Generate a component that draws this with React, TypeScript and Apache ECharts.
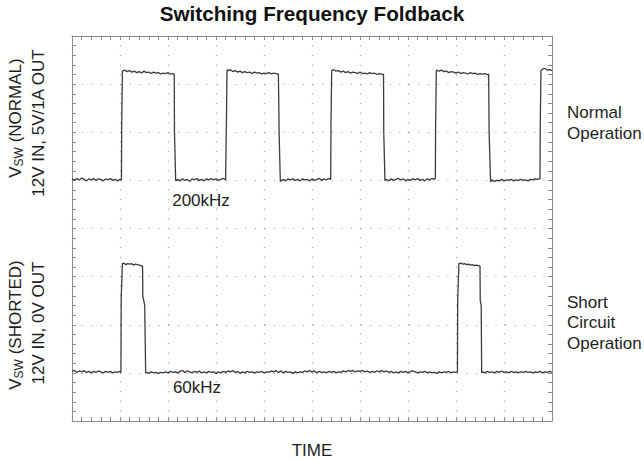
import { useEffect, useRef } from "react";
import * as echarts from "echarts";

// Chart texts
const titleText = "Switching Frequency Foldback";
const xAxisName = "TIME";
const normalFreqLabel = "200kHz";
const shortFreqLabel = "60kHz";
const normalSideLabel = "Normal\nOperation";
const shortSideLabel = "Short\nCircuit\nOperation";
const normalAxisLabel = ["V", "SW", " (NORMAL)", "12V IN, 5V/1A OUT"];
const shortAxisLabel = ["V", "SW", " (SHORTED)", "12V IN, 0V OUT"];

// Scope screen: 10 horizontal x 8 vertical divisions
const xDivisions = [0, 10];
const yDivisions = [0, 8];

// Top trace: VSW (normal) – [time div, vertical div]
const normalTrace: [number, number][] = [
  [0, 5.03], [0.05, 5.0], [0.1, 5.04], [0.15, 5.01], [0.2, 5.05], [0.25, 5.02], [0.3, 4.99], [0.35, 5.03], [0.4, 5.01], [0.45, 5.04],
  [0.5, 5.0], [0.55, 5.03], [0.6, 5.02], [0.65, 4.99], [0.7, 5.03], [0.75, 5.01], [0.8, 5.04], [0.85, 5.0], [0.9, 5.02], [0.95, 4.99],
  [1.0, 5.02], [1.03, 5.01], [1.035, 6.1], [1.05, 7.27],
  [1.1, 7.29], [1.15, 7.26], [1.2, 7.28], [1.25, 7.25], [1.3, 7.27], [1.35, 7.24], [1.4, 7.26], [1.45, 7.23], [1.5, 7.27], [1.55, 7.24],
  [1.6, 7.25], [1.65, 7.22], [1.7, 7.25], [1.75, 7.23], [1.8, 7.24], [1.85, 7.21], [1.9, 7.23], [1.95, 7.22], [2.0, 7.24], [2.05, 7.21],
  [2.1, 7.22], [2.13, 7.21], [2.135, 6.0], [2.16, 4.99],
  [2.2, 5.02], [2.25, 4.99], [2.3, 5.03], [2.35, 5.0], [2.4, 5.02], [2.45, 4.98], [2.5, 5.03], [2.55, 5.01], [2.6, 5.04], [2.65, 5.0],
  [2.7, 5.02], [2.75, 4.99], [2.8, 5.03], [2.85, 5.01], [2.9, 5.04], [2.95, 5.01], [3.0, 5.03], [3.05, 5.0], [3.1, 5.02], [3.15, 5.04],
  [3.2, 5.01], [3.21, 5.02], [3.215, 6.1], [3.23, 7.3],
  [3.25, 7.28], [3.3, 7.3], [3.35, 7.26], [3.4, 7.28], [3.45, 7.25], [3.5, 7.27], [3.55, 7.24], [3.6, 7.26], [3.65, 7.24], [3.7, 7.25],
  [3.75, 7.22], [3.8, 7.25], [3.85, 7.23], [3.9, 7.24], [3.95, 7.21], [4.0, 7.23], [4.05, 7.22], [4.1, 7.24], [4.15, 7.21], [4.2, 7.23],
  [4.25, 7.22], [4.3, 7.21], [4.31, 7.2], [4.315, 6.0], [4.34, 4.98],
  [4.4, 5.02], [4.45, 4.99], [4.5, 5.03], [4.55, 5.01], [4.6, 5.03], [4.65, 5.0], [4.7, 5.02], [4.75, 4.99], [4.8, 5.03], [4.85, 5.01],
  [4.9, 5.02], [4.95, 4.99], [5.0, 5.03], [5.05, 5.0], [5.1, 5.02], [5.15, 5.04], [5.2, 5.0], [5.25, 5.03], [5.3, 5.01], [5.35, 5.04],
  [5.39, 5.02], [5.395, 6.1], [5.41, 7.28],
  [5.45, 7.3], [5.5, 7.27], [5.55, 7.28], [5.6, 7.25], [5.65, 7.27], [5.7, 7.24], [5.75, 7.26], [5.8, 7.23], [5.85, 7.25], [5.9, 7.24],
  [5.95, 7.22], [6.0, 7.25], [6.05, 7.22], [6.1, 7.23], [6.15, 7.21], [6.2, 7.24], [6.25, 7.22], [6.3, 7.23], [6.35, 7.2], [6.4, 7.22],
  [6.45, 7.21], [6.49, 7.2], [6.495, 6.0], [6.52, 4.99],
  [6.55, 5.02], [6.6, 4.99], [6.65, 5.03], [6.7, 5.0], [6.75, 5.02], [6.8, 5.04], [6.85, 5.01], [6.9, 5.03], [6.95, 4.99], [7.0, 5.02],
  [7.05, 5.0], [7.1, 5.03], [7.15, 5.01], [7.2, 5.04], [7.25, 5.0], [7.3, 5.02], [7.35, 4.99], [7.4, 5.03], [7.45, 5.01], [7.5, 5.04],
  [7.55, 5.02], [7.57, 5.05], [7.575, 6.1], [7.59, 7.29],
  [7.6, 7.3], [7.65, 7.27], [7.7, 7.29], [7.75, 7.26], [7.8, 7.27], [7.85, 7.24], [7.9, 7.26], [7.95, 7.25], [8.0, 7.23], [8.05, 7.25],
  [8.1, 7.22], [8.15, 7.24], [8.2, 7.23], [8.25, 7.21], [8.3, 7.24], [8.35, 7.22], [8.4, 7.23], [8.45, 7.2], [8.5, 7.22], [8.55, 7.21],
  [8.6, 7.22], [8.65, 7.2], [8.68, 7.21], [8.69, 6.0], [8.72, 4.97],
  [8.75, 5.01], [8.8, 4.98], [8.85, 5.0], [8.9, 4.99], [8.95, 5.02], [9.0, 4.99], [9.05, 5.01], [9.1, 5.0], [9.15, 5.02], [9.2, 4.99],
  [9.25, 5.01], [9.3, 5.0], [9.35, 5.02], [9.4, 5.0], [9.45, 5.01], [9.5, 4.99], [9.55, 5.02], [9.6, 5.01], [9.65, 5.03], [9.7, 5.02],
  [9.75, 5.04], [9.755, 6.1], [9.77, 7.28],
  [9.8, 7.31], [9.85, 7.33], [9.9, 7.29], [9.95, 7.3], [10, 7.28],
];

// Bottom trace: VSW (shorted) – [time div, vertical div]
const shortTrace: [number, number][] = [
  [0, 1.03], [0.05, 1.05], [0.1, 1.01], [0.15, 1.04], [0.2, 1.02], [0.25, 1.05], [0.3, 1.01], [0.35, 1.03], [0.4, 1.0], [0.45, 1.03],
  [0.5, 1.01], [0.55, 1.04], [0.6, 1.02], [0.65, 1.0], [0.7, 1.03], [0.75, 1.01], [0.8, 1.03], [0.85, 1.0], [0.9, 1.02], [0.95, 1.01],
  [1.0, 1.03], [1.02, 1.01], [1.025, 2.55], [1.05, 3.27],
  [1.08, 3.28], [1.12, 3.25], [1.16, 3.27], [1.2, 3.26], [1.24, 3.27], [1.28, 3.24], [1.32, 3.26], [1.36, 3.25], [1.4, 3.24], [1.44, 3.23],
  [1.47, 3.22], [1.475, 2.6], [1.515, 2.4], [1.535, 1.0],
  [1.55, 1.01], [1.6, 0.99], [1.65, 1.02], [1.7, 1.0], [1.75, 1.01], [1.8, 0.99], [1.85, 1.01], [1.9, 1.0], [1.95, 1.02], [2.0, 1.0],
  [2.05, 1.03], [2.1, 1.01], [2.15, 1.02], [2.2, 1.0], [2.25, 1.03], [2.3, 1.05], [2.35, 1.01], [2.4, 1.04], [2.45, 1.02], [2.5, 1.0],
  [2.55, 1.03], [2.6, 1.01], [2.65, 1.04], [2.7, 1.0], [2.75, 1.02], [2.8, 1.0], [2.85, 1.03], [2.9, 1.01], [2.95, 1.02], [3.0, 0.99],
  [3.05, 1.02], [3.1, 1.0], [3.15, 1.03], [3.2, 1.01], [3.25, 1.04], [3.3, 1.02], [3.35, 1.05], [3.4, 1.01], [3.45, 1.03], [3.5, 0.99],
  [3.55, 1.02], [3.6, 1.0], [3.65, 1.03], [3.7, 1.01], [3.75, 1.02], [3.8, 1.0], [3.85, 1.02], [3.9, 1.01], [3.95, 1.03], [4.0, 1.0],
  [4.05, 1.02], [4.1, 1.01], [4.15, 1.04], [4.2, 1.02], [4.25, 1.05], [4.3, 1.01], [4.35, 1.04], [4.4, 1.0], [4.45, 1.03], [4.5, 1.01],
  [4.55, 1.02], [4.6, 0.99], [4.65, 1.02], [4.7, 1.0], [4.75, 1.02], [4.8, 1.01], [4.85, 1.04], [4.9, 1.02], [4.95, 1.05], [5.0, 1.02],
  [5.05, 1.04], [5.1, 1.0], [5.15, 1.03], [5.2, 1.01], [5.25, 1.02], [5.3, 1.0], [5.35, 1.03], [5.4, 1.01], [5.45, 1.03], [5.5, 1.0],
  [5.55, 1.02], [5.6, 1.01], [5.65, 1.04], [5.7, 1.02], [5.75, 1.05], [5.8, 1.03], [5.85, 1.05], [5.9, 1.02], [5.95, 1.04], [6.0, 1.03],
  [6.05, 1.05], [6.1, 1.02], [6.15, 1.04], [6.2, 1.01], [6.25, 1.03], [6.3, 1.01], [6.35, 1.04], [6.4, 1.02], [6.45, 1.05], [6.5, 1.02],
  [6.55, 1.04], [6.6, 1.01], [6.65, 1.03], [6.7, 1.0], [6.75, 1.02], [6.8, 1.0], [6.85, 1.03], [6.9, 1.01], [6.95, 1.03], [7.0, 1.0],
  [7.05, 1.03], [7.1, 1.04], [7.15, 1.02], [7.2, 1.0], [7.25, 1.02], [7.3, 1.01], [7.35, 1.03], [7.4, 1.0], [7.45, 1.02], [7.5, 1.0],
  [7.55, 1.01], [7.6, 0.99], [7.65, 1.02], [7.7, 1.0], [7.75, 1.02], [7.8, 1.01], [7.85, 1.03], [7.9, 1.0], [7.95, 1.02], [8.0, 1.01],
  [8.03, 1.02], [8.035, 2.5], [8.06, 3.27],
  [8.1, 3.28], [8.14, 3.26], [8.18, 3.27], [8.22, 3.25], [8.26, 3.26], [8.3, 3.24], [8.34, 3.25], [8.38, 3.23], [8.42, 3.24], [8.46, 3.23],
  [8.5, 3.22], [8.505, 2.5], [8.525, 2.4], [8.535, 1.0],
  [8.55, 1.02], [8.6, 1.0], [8.65, 1.03], [8.7, 1.01], [8.75, 1.02], [8.8, 1.0], [8.85, 1.03], [8.9, 1.01], [8.95, 1.04], [9.0, 1.01],
  [9.05, 1.02], [9.1, 1.0], [9.15, 1.03], [9.2, 1.01], [9.25, 1.02], [9.3, 1.0], [9.35, 1.02], [9.4, 1.01], [9.45, 1.03], [9.5, 1.01],
  [9.55, 1.02], [9.6, 1.0], [9.65, 1.02], [9.7, 1.01], [9.75, 1.03], [9.8, 1.0], [9.85, 1.02], [9.9, 1.01], [9.95, 1.03], [10, 1.01],
];

const FONT = '"Liberation Sans", Arial, Helvetica, sans-serif';
const BORDER = "#8c8c8c";
const DOT = "#9a9a9a";
const TRACE = "#3c3c3c";
const TEXT = "#1e1e1e";
const MAIN_SIZE = 17;
const SUB_SIZE = 12;

function measure(t: string, font: string): number {
  const c = document.createElement("canvas").getContext("2d");
  if (!c) return t.length * 8;
  c.font = font;
  return c.measureText(t).width;
}

function makeAxis(range: number[], withSplit: boolean, dash: number[], extra: Record<string, unknown>) {
  return {
    type: "value",
    min: range[0],
    max: range[1],
    interval: 1,
    axisLine: { show: true, onZero: false, lineStyle: { color: BORDER, width: 1 } },
    axisTick: { show: true, inside: true, length: 4, lineStyle: { color: BORDER, width: 1 } },
    minorTick: { show: true, splitNumber: 5, length: 4, lineStyle: { color: BORDER, width: 1 } },
    axisLabel: { show: false },
    splitLine: { show: withSplit, lineStyle: { color: DOT, width: 1.2, type: dash } },
    minorSplitLine: { show: false },
    ...extra,
  };
}

export default function App() {
  const ref = useRef<HTMLDivElement>(null);
  useEffect(() => {
    if (!ref.current) return;
    const chart = echarts.init(ref.current, null, { renderer: "svg" });
    const mainFont = `${MAIN_SIZE}px ${FONT}`;
    const subFont = `${SUB_SIZE}px ${FONT}`;
    const text = (t: string, x: number, y: number, font: string, opts: Record<string, unknown> = {}) => ({
      type: "text",
      x,
      y,
      style: {
        text: t,
        font,
        fill: TEXT,
        align: "center",
        verticalAlign: "middle",
        textAlign: "center",
        textVerticalAlign: "middle",
        ...opts,
      },
    });
    const leftText = (t: string, x: number, y: number, font: string) => ({
      type: "text",
      x,
      y,
      style: {
        text: t,
        font,
        fill: TEXT,
        align: "left",
        verticalAlign: "middle",
        textAlign: "left",
        textVerticalAlign: "middle",
      },
    });
    // rotated label with subscript: built from separate text pieces in a rotated group
    const subLabel = (parts: string[], x: number, y: number) => {
      const w0 = measure(parts[0], mainFont);
      const w1 = measure(parts[1], subFont);
      const w2 = measure(parts[2], mainFont);
      const start = -(w0 + w1 + w2) / 2;
      return {
        type: "group",
        x,
        y,
        rotation: Math.PI / 2,
        children: [
          leftText(parts[0], start, 0, mainFont),
          leftText(parts[1], start + w0, 4, subFont),
          leftText(parts[2], start + w0 + w1, 0, mainFont),
        ],
      };
    };
    const rotated = (t: string, x: number, y: number) => ({
      ...text(t, x, y, mainFont),
      rotation: Math.PI / 2,
    });
    chart.setOption({
      animation: false,
      backgroundColor: "#ffffff",
      grid: { left: 72, top: 36, width: 480, height: 385, containLabel: false },
      xAxis: [
        makeAxis(xDivisions, true, [1, 8.6], { position: "bottom" }),
        makeAxis(xDivisions, false, [1, 8.6], { position: "top" }),
      ],
      yAxis: [
        makeAxis(yDivisions, true, [1, 8.625], { position: "left" }),
        makeAxis(yDivisions, false, [1, 8.625], { position: "right" }),
      ],
      series: [
        {
          type: "line",
          name: "VSW normal",
          xAxisIndex: 0,
          yAxisIndex: 0,
          data: normalTrace,
          showSymbol: false,
          symbol: "none",
          lineStyle: { color: TRACE, width: 1.3 },
          silent: true,
        },
        {
          type: "line",
          name: "VSW shorted",
          xAxisIndex: 0,
          yAxisIndex: 0,
          data: shortTrace,
          showSymbol: false,
          symbol: "none",
          lineStyle: { color: TRACE, width: 1.3 },
          silent: true,
        },
      ],
      graphic: [
        text(titleText, 312, 13.5, `bold 20.7px ${FONT}`, { fill: "#111" }),
        text(xAxisName, 312, 450, mainFont),
        text(normalFreqLabel, 201, 200, mainFont),
        text(shortFreqLabel, 197, 387, mainFont),
        text(normalSideLabel, 567, 122.5, mainFont, { align: "left", textAlign: "left", lineHeight: 21 }),
        text(shortSideLabel, 567, 322.5, mainFont, { align: "left", textAlign: "left", lineHeight: 20.5 }),
        subLabel(normalAxisLabel, 15, 118),
        rotated(normalAxisLabel[3], 38, 123),
        subLabel(shortAxisLabel, 15, 325),
        rotated(shortAxisLabel[3], 38, 323),
      ],
    });
    return () => chart.dispose();
  }, []);
  return (
    <div
      ref={ref}
      style={{ position: "absolute", left: 0, top: 0, width: 644, height: 460 }}
    />
  );
}
